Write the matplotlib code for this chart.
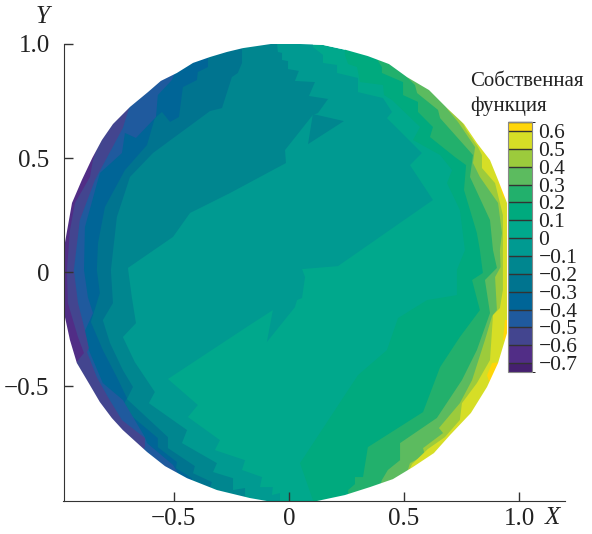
import numpy as np
import matplotlib
matplotlib.use("Agg")
import matplotlib.pyplot as plt
from matplotlib.colors import ListedColormap, BoundaryNorm
from matplotlib.cm import ScalarMappable
from matplotlib.path import Path
from matplotlib.patches import PathPatch

plt.rcParams['font.family'] = ['Liberation Serif', 'DejaVu Serif']

# outline of the disk (X, Y)
outline = [(-0.052,1.004),(-0.20,0.982),(-0.27,0.965),(-0.343,0.943),(-0.417,0.917),(-0.487,0.873),(-0.557,0.838),
           (-0.613,0.789),(-0.691,0.724),(-0.765,0.649),(-0.813,0.579),(-0.855,0.5),(-0.9,0.404),(-0.943,0.303),
           (-0.974,0.127),(-0.983,-0.004),(-0.983,-0.154),(-0.952,-0.298),(-0.922,-0.399),(-0.865,-0.496),
           (-0.822,-0.57),(-0.77,-0.64),(-0.722,-0.693),(-0.617,-0.789),(-0.539,-0.851),(-0.443,-0.904),
           (-0.313,-0.956),(-0.17,-0.991),(-0.096,-1.004),(0.122,-1.004),(0.243,-0.978),(0.352,-0.943),(0.452,-0.908),
           (0.539,-0.855),(0.63,-0.794),(0.70,-0.715),(0.791,-0.618),(0.861,-0.504),(0.909,-0.399),(0.948,-0.268),
           (0.948,-0.145),(0.948,0.0),(0.948,0.14),(0.948,0.303),(0.909,0.404),(0.874,0.491),(0.817,0.566),
           (0.761,0.649),(0.687,0.719),(0.609,0.798),(0.513,0.855),(0.435,0.912),(0.343,0.947),(0.248,0.974),(0.148,0.996)]

# contour lines, left side (function below the level)
line_m00 = [(0.104,1.018),(0.104,0.987),(0.148,0.952),(0.148,0.917),(0.209,0.908),(0.209,0.873),(0.30,0.851),
            (0.30,0.789),(0.409,0.763),(0.448,0.702),(0.426,0.675),(0.578,0.522),(0.526,0.469),(0.626,0.316),
            (0.213,0.026),(0.057,0.013),(0.07,-0.022),(0.057,-0.114),(0.035,-0.123),(0.026,-0.154),(-0.096,-0.307),
            (-0.07,-0.167),(-0.17,-0.232),(-0.526,-0.469),(-0.396,-0.583),(-0.439,-0.636),(-0.30,-0.737),
            (-0.322,-0.781),(-0.191,-0.825),(-0.204,-0.868),(-0.117,-0.899),(-0.126,-0.943),(-0.07,-0.943),
            (-0.074,-0.978),(-0.039,-0.969),(-0.039,-1.04)]
line_m01 = [(-0.052,1.018),(-0.052,1.004),(-0.048,0.965),(-0.03,0.961),(-0.03,0.93),(-0.004,0.925),(-0.004,0.89),
            (0.043,0.882),(0.026,0.838),(0.113,0.833),(0.087,0.772),(0.17,0.759),(0.126,0.697),(0.104,0.689),
            (-0.017,0.535),(-0.013,0.478),(-0.257,0.346),(-0.43,0.259),(-0.504,0.154),(-0.70,0.018),(-0.683,-0.11),
            (-0.665,-0.224),(-0.722,-0.285),(-0.67,-0.395),(-0.583,-0.526),(-0.609,-0.575),(-0.443,-0.693),
            (-0.465,-0.75),(-0.313,-0.838),(-0.33,-0.877),(-0.243,-0.904),(-0.243,-0.956),(-0.191,-0.947),(-0.191,-1.04)]
island_m01 = [(0.104,0.693),(0.239,0.662),(0.083,0.561)]
line_m02 = [(-0.204,1.018),(-0.204,0.917),(-0.222,0.873),(-0.248,0.855),(-0.291,0.719),(-0.343,0.706),(-0.591,0.522),
            (-0.691,0.417),(-0.748,0.241),(-0.774,0.009),(-0.765,-0.136),(-0.809,-0.211),(-0.778,-0.311),(-0.722,-0.43),
            (-0.678,-0.504),(-0.704,-0.557),(-0.526,-0.724),(-0.526,-0.772),(-0.409,-0.851),(-0.417,-0.882),
            (-0.335,-0.921),(-0.343,-0.947),(-0.343,-1.04)]
line_m03 = [(-0.352,1.018),(-0.352,0.899),(-0.396,0.877),(-0.40,0.842),(-0.461,0.811),(-0.478,0.68),(-0.517,0.658),
            (-0.552,0.702),(-0.583,0.675),(-0.617,0.557),(-0.713,0.447),(-0.80,0.285),(-0.83,0.127),(-0.835,0.009),
            (-0.822,-0.092),(-0.861,-0.219),(-0.809,-0.342),(-0.748,-0.461),(-0.704,-0.553),(-0.726,-0.596),
            (-0.57,-0.728),(-0.57,-0.768),(-0.487,-0.833),(-0.491,-0.86),(-0.422,-0.904),(-0.422,-1.04)]
line_m04 = [(-0.474,0.93),(-0.509,0.842),(-0.57,0.776),(-0.578,0.68),(-0.665,0.588),(-0.713,0.61),(-0.726,0.522),
            (-0.822,0.434),(-0.887,0.197),(-0.891,0.009),(-0.874,-0.11),(-0.852,-0.18),(-0.891,-0.268),(-0.87,-0.342),
            (-0.809,-0.487),(-0.722,-0.561),(-0.626,-0.724),(-0.617,-0.75),(-0.504,-0.846),(-0.452,-0.934)]
line_m05 = [(-0.691,0.732),(-0.722,0.632),(-0.843,0.404),(-0.909,0.228),(-0.935,0.009),(-0.917,-0.136),(-0.887,-0.254),
            (-0.87,-0.333),(-0.878,-0.351),(-0.835,-0.461),(-0.787,-0.548),(-0.726,-0.649),(-0.626,-0.728),
            (-0.626,-0.768),(-0.67,-0.86)]
line_m06 = [(-0.822,0.579),(-0.852,0.491),(-0.865,0.417),(-0.93,0.303),(-0.952,0.184),(-0.965,0.009),(-0.961,-0.136),
            (-0.917,-0.285),(-0.891,-0.355),(-0.909,-0.377),(-0.95,-0.43)]

# contour lines, right side (function above the level)
line_p01 = [(0.243,1.018),(0.243,0.952),(0.257,0.912),(0.296,0.899),(0.309,0.833),(0.409,0.82),(0.413,0.776),
            (0.448,0.754),(0.57,0.636),(0.539,0.579),(0.657,0.513),(0.709,0.447),(0.687,0.39),(0.743,0.272),
            (0.765,0.096),(0.73,0.009),(0.73,-0.101),(0.60,-0.123),(0.474,-0.202),(0.426,-0.342),(0.30,-0.452),
            (0.048,-0.838),(0.104,-1.0),(0.104,-1.04)]
line_p02 = [(0.343,0.996),(0.404,0.899),(0.404,0.873),(0.496,0.833),(0.496,0.776),(0.561,0.746),(0.561,0.702),
            (0.626,0.636),(0.613,0.592),(0.722,0.504),(0.77,0.469),(0.761,0.36),(0.817,0.171),(0.83,0.096),
            (0.843,-0.004),(0.796,-0.035),(0.83,-0.167),(0.743,-0.285),(0.657,-0.417),(0.583,-0.614),(0.343,-0.768),
            (0.322,-0.899),(0.287,-0.899),(0.287,-0.93),(0.257,-0.956),(0.257,-1.04)]
line_p03 = [(0.483,0.93),(0.504,0.864),(0.548,0.82),(0.557,0.785),(0.648,0.711),(0.657,0.675),(0.80,0.513),
            (0.787,0.417),(0.874,0.228),(0.887,0.096),(0.904,0.018),(0.852,-0.035),(0.874,-0.18),(0.817,-0.342),
            (0.752,-0.474),(0.643,-0.64),(0.483,-0.75),(0.483,-0.825),(0.43,-0.868),(0.404,-0.912),(0.374,-1.0)]
line_p04 = [(0.657,0.776),(0.691,0.711),(0.735,0.658),(0.809,0.548),(0.80,0.478),(0.83,0.417),(0.909,0.303),
            (0.926,0.171),(0.917,0.096),(0.92,0.022),(0.896,-0.022),(0.904,-0.167),(0.883,-0.193),(0.852,-0.298),
            (0.796,-0.474),(0.743,-0.575),(0.652,-0.684),(0.67,-0.706),(0.583,-0.772),(0.591,-0.803),(0.526,-0.838),
            (0.504,-0.912)]
line_p05 = [(0.743,0.675),(0.774,0.618),(0.822,0.548),(0.839,0.513),(0.839,0.456),(0.896,0.39),(0.93,0.25),
            (0.93,-0.079),(0.917,-0.158),(0.887,-0.189),(0.874,-0.386),(0.817,-0.487),(0.752,-0.575),(0.743,-0.649),
            (0.678,-0.724),(0.604,-0.776),(0.535,-0.842),(0.504,-0.912)]
patches_p06 = [[(0.91,0.40),(0.93,0.33),(0.96,0.30),(0.96,0.42)],
               [(0.939,-0.21),(0.97,-0.21),(0.97,-0.30),(0.93,-0.30)],
               [(0.883,-0.399),(0.92,-0.395),(0.88,-0.51),(0.861,-0.453)]]

levels = [-0.75,-0.7,-0.6,-0.5,-0.4,-0.3,-0.2,-0.1,0,0.1,0.2,0.3,0.4,0.5,0.6,0.65]
colors = ['#45206f','#512d86','#43458f','#1f5a9e','#006597','#00748f','#00868f','#009a91',
          '#00a88c','#00aa7e','#22b06c','#5cbb5f','#9ccb3c','#d6de26','#ffd60a']
cbar_ticks = [-0.7,-0.6,-0.5,-0.4,-0.3,-0.2,-0.1,0,0.1,0.2,0.3,0.4,0.5,0.6]
cbar_labels = ['\u22120.7','\u22120.6','\u22120.5','\u22120.4','\u22120.3','\u22120.2','\u22120.1',
               '0','0.1','0.2','0.3','0.4','0.5','0.6']
x_ticks = [-0.5,0,0.5,1.0]
x_labels = ['\u22120.5','0','0.5','1.0']
y_ticks = [-0.5,0,0.5,1.0]
y_labels = ['\u22120.5','0','0.5','1.0']

def color_of(value):
    return colors[np.searchsorted(levels, value, side='right') - 1]

fig = plt.figure(figsize=(5.92,5.34), dpi=100)
ax = fig.add_axes([63.5/592, 1-501/534, (565-63.5)/592, (501-44)/534])

ax.fill(*zip(*outline), color=color_of(0.05), lw=0)

def paint(line, value, side):
    pts = list(line) + [(side,line[-1][1]), (side,line[0][1])]
    ax.fill(*zip(*pts), color=color_of(value), lw=0)

paint(line_m00, -0.05, -1.2)
paint(line_m01, -0.15, -1.2)
ax.fill(*zip(*island_m01), color=color_of(-0.15), lw=0)
paint(line_m02, -0.25, -1.2)
paint(line_m03, -0.35, -1.2)
paint(line_m04, -0.45, -1.2)
paint(line_m05, -0.55, -1.2)
paint(line_m06, -0.65, -1.2)

paint(line_p01, 0.15, 1.2)
paint(line_p02, 0.25, 1.2)
paint(line_p03, 0.35, 1.2)
paint(line_p04, 0.45, 1.2)
paint(line_p05, 0.55, 1.2)
for patch in patches_p06:
    ax.fill(*zip(*patch), color=color_of(0.62), lw=0)

# white everywhere outside the disk, so its edge stays smooth
box = [(-1.3,-1.2),(-1.3,1.2),(1.3,1.2),(1.3,-1.2)]
verts = box + [box[0]] + outline + [outline[0]]
codes = [Path.MOVETO] + [Path.LINETO]*3 + [Path.CLOSEPOLY] + [Path.MOVETO] + [Path.LINETO]*(len(outline)-1) + [Path.CLOSEPOLY]
ax.add_patch(PathPatch(Path(verts, codes), facecolor='white', edgecolor='none', lw=0, zorder=1.5))

ax.set_xlim(-0.98, 1.2)
ax.set_ylim(-1.004, 1.0)
ax.spines['top'].set_visible(False)
ax.spines['right'].set_visible(False)
ax.spines['left'].set_color('#333333')
ax.spines['bottom'].set_color('#333333')
ax.set_xticks(x_ticks)
ax.set_xticklabels(x_labels)
ax.set_yticks(y_ticks)
ax.set_yticklabels(y_labels)
ax.tick_params(axis='x', direction='in', length=6.5, width=1, color='#333333', labelsize=18, pad=5, labelcolor='#222222')
ax.tick_params(axis='y', direction='in', length=6.5, width=1, color='#333333', labelsize=18, pad=10, labelcolor='#222222')

fig.text(43/592, 1-17/534, 'Y', style='italic', fontsize=18, ha='center', va='center', color='#222222')
fig.text(552/592, 1-518/534, 'X', style='italic', fontsize=18, ha='center', va='center', color='#222222')

fig.text(470/592, 1-86/534, 'Собственная', fontsize=15, ha='left', va='baseline', color='#222222')
fig.text(470/592, 1-111/534, 'функция', fontsize=15, ha='left', va='baseline', color='#222222')

cax = fig.add_axes([508/592, 1-372/534, 23.5/592, 250/534])
norm = BoundaryNorm(levels, len(colors))
sm = ScalarMappable(norm=norm, cmap=ListedColormap(colors))
cb = fig.colorbar(sm, cax=cax, boundaries=levels, spacing='proportional', drawedges=True, ticks=cbar_ticks)
cb.ax.set_yticklabels(cbar_labels)
cb.ax.tick_params(length=0, labelsize=15.5, pad=5, labelcolor='#222222')
cb.dividers.set_color('#333333')
cb.dividers.set_linewidth(1)
cb.outline.set_edgecolor('#888888')
cb.outline.set_linewidth(0.8)

plt.savefig("out.png", dpi=100)
